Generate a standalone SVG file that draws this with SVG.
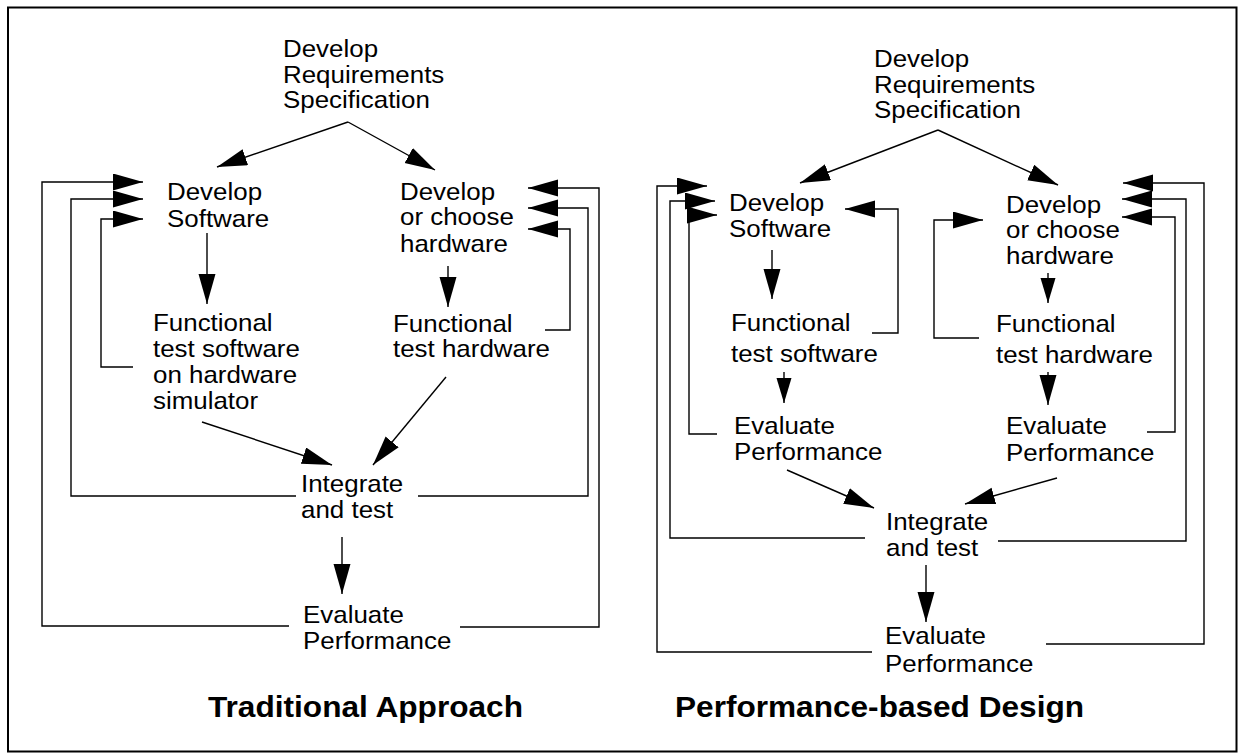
<svg xmlns="http://www.w3.org/2000/svg" width="1238" height="753" viewBox="0 0 1238 753">
<defs>
<style>
.t{font-family:"Liberation Sans",Arial,sans-serif;font-size:24px;fill:#000}
.h{font-family:"Liberation Sans",Arial,sans-serif;font-size:30px;font-weight:bold;fill:#000}
.c path{fill:none;stroke:#000;stroke-width:1.4}
.c .a{marker-end:url(#ah)}
.c .s{marker-end:url(#as)}
</style>
<marker id="ah" markerUnits="userSpaceOnUse" markerWidth="32" markerHeight="18" refX="30" refY="8.5" orient="auto"><path d="M0,0 L30,8.5 L0,17 Z" fill="#000"/></marker>
<marker id="as" markerUnits="userSpaceOnUse" markerWidth="27" markerHeight="16" refX="25" refY="7.5" orient="auto"><path d="M0,0 L25,7.5 L0,15 Z" fill="#000"/></marker>
</defs>
<rect x="8" y="7.5" width="1228.5" height="744" fill="none" stroke="#000" stroke-width="2"/>

<g id="L-req" class="t" transform="translate(283 0) scale(1.08 1)"><text x="0" y="57">Develop</text><text x="0" y="83">Requirements</text><text x="0" y="108">Specification</text></g>
<g id="L-sw" class="t" transform="translate(167 0) scale(1.08 1)"><text x="0" y="200">Develop</text><text x="0" y="227">Software</text></g>
<g id="L-hw" class="t" transform="translate(400 0) scale(1.08 1)"><text x="0" y="200">Develop</text><text x="0" y="225">or choose</text><text x="0" y="252">hardware</text></g>
<g id="L-fts" class="t" transform="translate(153 0) scale(1.08 1)"><text x="0" y="331">Functional</text><text x="0" y="357">test software</text><text x="0" y="383">on hardware</text><text x="0" y="409">simulator</text></g>
<g id="L-fth" class="t" transform="translate(393 0) scale(1.08 1)"><text x="0" y="332">Functional</text><text x="0" y="357">test hardware</text></g>
<g id="L-int" class="t" transform="translate(301 0) scale(1.08 1)"><text x="0" y="492">Integrate</text><text x="0" y="518">and test</text></g>
<g id="L-eval" class="t" transform="translate(303 0) scale(1.08 1)"><text x="0" y="623">Evaluate</text><text x="0" y="649">Performance</text></g>
<g id="L-title"><text class="h" x="208" y="717" textLength="315" lengthAdjust="spacingAndGlyphs">Traditional Approach</text></g>

<g id="R-req" class="t" transform="translate(874 0) scale(1.08 1)"><text x="0" y="67">Develop</text><text x="0" y="93">Requirements</text><text x="0" y="118">Specification</text></g>
<g id="R-sw" class="t" transform="translate(729 0) scale(1.08 1)"><text x="0" y="211">Develop</text><text x="0" y="237">Software</text></g>
<g id="R-hw" class="t" transform="translate(1006 0) scale(1.08 1)"><text x="0" y="213">Develop</text><text x="0" y="238">or choose</text><text x="0" y="264">hardware</text></g>
<g id="R-fts" class="t" transform="translate(731 0) scale(1.08 1)"><text x="0" y="331">Functional</text><text x="0" y="362">test software</text></g>
<g id="R-fth" class="t" transform="translate(996 0) scale(1.08 1)"><text x="0" y="332">Functional</text><text x="0" y="363">test hardware</text></g>
<g id="R-evs" class="t" transform="translate(734 0) scale(1.08 1)"><text x="0" y="434">Evaluate</text><text x="0" y="460">Performance</text></g>
<g id="R-evh" class="t" transform="translate(1006 0) scale(1.08 1)"><text x="0" y="434">Evaluate</text><text x="0" y="461">Performance</text></g>
<g id="R-int" class="t" transform="translate(886 0) scale(1.08 1)"><text x="0" y="530">Integrate</text><text x="0" y="556">and test</text></g>
<g id="R-eval" class="t" transform="translate(885 0) scale(1.08 1)"><text x="0" y="644">Evaluate</text><text x="0" y="672">Performance</text></g>
<g id="R-title"><text class="h" x="675" y="717" textLength="409" lengthAdjust="spacingAndGlyphs">Performance-based Design</text></g>

<g id="connectors" class="c">
<path class="a" d="M348,122 L217,167"/>
<path class="a" d="M348,122 L435,170"/>
<path class="a" d="M207,233 L207,304"/>
<path class="a" d="M448,266 L448,307"/>
<path class="a" d="M202,422 L332,465"/>
<path class="a" d="M446,377 L373,465"/>
<path class="a" d="M342,537 L342,594"/>
<path class="a" d="M289,626 H42 V182 H143"/>
<path class="a" d="M296,496 H71 V199 H143"/>
<path class="a" d="M133,367 H101 V219 H143"/>
<path class="a" d="M460,627 H599 V188 H528"/>
<path class="a" d="M418,496 H588 V208 H528"/>
<path class="a" d="M545,330 H570 V229 H528"/>

<path class="a" d="M938,130 L800,183"/>
<path class="a" d="M938,130 L1058,185"/>
<path class="a" d="M772,250 L772,299"/>
<path class="s" d="M784,372 L784,403"/>
<path class="s" d="M1048,273 L1048,303"/>
<path class="a" d="M1048,372 L1048,405"/>
<path class="a" d="M787,470 L874,508"/>
<path class="a" d="M1057,478 L965,504"/>
<path class="a" d="M926,565 L926,622"/>
<path class="a" d="M872,652 H657 V186 H707"/>
<path class="a" d="M865,538 H670 V201 H715"/>
<path class="a" d="M717,434 H689 V215 H717"/>
<path class="a" d="M872,333 H898 V209 H845"/>
<path class="a" d="M979,338 H934 V220 H983"/>
<path class="a" d="M1046,644 H1204 V183 H1123"/>
<path class="a" d="M998,541 H1186 V199 H1122"/>
<path class="a" d="M1147,432 H1175 V217 H1122"/>
</g>
</svg>
